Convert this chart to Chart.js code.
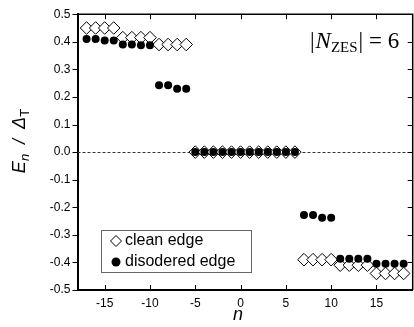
<!DOCTYPE html>
<html><head><meta charset="utf-8">
<script src="https://cdn.jsdelivr.net/npm/chart.js@4"></script>
<style>
html,body{margin:0;padding:0;overflow:hidden;background:#fff}
#wrap{position:relative;width:420px;height:327px}
</style>
</head><body><div id="wrap"><canvas id="c" width="420" height="327"></canvas></div>
<script>
// ---- data ----
const nValues = [-17,-16,-15,-14,-13,-12,-11,-10,-9,-8,-7,-6,
                 -5,-4,-3,-2,-1,0,1,2,3,4,5,6,
                 7,8,9,10,11,12,13,14,15,16,17,18];
const cleanEdge = [0.45,0.45,0.45,0.45, 0.415,0.415,0.415,0.415, 0.39,0.39,0.39,0.39,
                   0,0,0,0,0,0,0,0,0,0,0,0,
                   -0.39,-0.39,-0.39,-0.39, -0.41,-0.41,-0.41,-0.41, -0.44,-0.44,-0.44,-0.44];
const disorderedEdge = [0.41,0.41,0.405,0.405, 0.39,0.39,0.387,0.387, 0.242,0.242,0.23,0.23,
                   0,0,0,0,0,0,0,0,0,0,0,0,
                   -0.228,-0.228,-0.238,-0.238, -0.387,-0.387,-0.387,-0.387, -0.405,-0.405,-0.405,-0.405];
const xTickValues = [-15,-10,-5,0,5,10,15];
const seriesNames = ['clean edge','disodered edge'];
const annotationText = {bar:'|', N:'N', sub:'ZES', rest:'| = 6'};

// ---- chart ----
const SANS = "'Liberation Sans', Arial, sans-serif";
const SERIF = "'Liberation Serif', 'Times New Roman', serif";
Chart.defaults.font.family = SANS;
Chart.defaults.font.size = 12;
Chart.defaults.color = '#000';

const toPts = (arr) => nValues.map((n,i)=>({x:n,y:arr[i]}));

const decor = {
  id:'decor',
  beforeDatasetsDraw(chart){
    const {ctx, chartArea:a, scales:{y}} = chart;
    const y0 = y.getPixelForValue(0);
    ctx.save();
    ctx.strokeStyle = '#333'; ctx.lineWidth = 1; ctx.setLineDash([3,2]);
    ctx.beginPath(); ctx.moveTo(a.left, Math.round(y0)+0.5); ctx.lineTo(a.right, Math.round(y0)+0.5); ctx.stroke();
    ctx.restore();
  },
  afterDraw(chart){
    const {ctx, chartArea:a, scales:{x,y}} = chart;
    ctx.save();
    ctx.strokeStyle = '#000';
    // top & right frame
    ctx.lineWidth = 1.5;
    ctx.beginPath(); ctx.moveTo(a.left, a.top); ctx.lineTo(a.right, a.top); ctx.lineTo(a.right, a.bottom); ctx.stroke();
    // ticks
    ctx.lineWidth = 1;
    x.ticks.forEach(t=>{
      const px = Math.round(x.getPixelForValue(t.value))+0.5;
      ctx.beginPath(); ctx.moveTo(px, a.bottom); ctx.lineTo(px, a.bottom-5); ctx.stroke();
      ctx.beginPath(); ctx.moveTo(px, a.top); ctx.lineTo(px, a.top+5); ctx.stroke();
    });
    y.ticks.forEach(t=>{
      const py = Math.round(y.getPixelForValue(t.value))+0.5;
      ctx.beginPath(); ctx.moveTo(a.left-5, py); ctx.lineTo(a.left, py); ctx.stroke();
      ctx.beginPath(); ctx.moveTo(a.right-5, py); ctx.lineTo(a.right, py); ctx.stroke();
    });

    // x title
    ctx.fillStyle = '#000';
    ctx.font = 'italic 18px ' + SANS;
    ctx.textAlign = 'center'; ctx.textBaseline = 'alphabetic';
    ctx.fillText('n', (a.left+a.right)/2 - 7, 320);

    // y title (rotated)
    ctx.save();
    ctx.translate(25, 141);
    ctx.rotate(-Math.PI/2);
    const parts = [
      {t:'E', f:'italic 18px '+SANS, dy:0, gap:0},
      {t:'n', f:'italic 13px '+SANS, dy:4, gap:0},
      {t:'/', f:'italic 18px '+SANS, dy:0, gap:10},
      {t:'Δ', f:'italic 18px '+SANS, dy:0, gap:10},
      {t:'T', f:'13px '+SANS, dy:4, gap:0},
    ];
    let total = 0;
    parts.forEach(p=>{ctx.font=p.f; p.w=ctx.measureText(p.t).width; total += p.gap + p.w;});
    let cx = -total/2;
    ctx.textAlign = 'left';
    parts.forEach(p=>{cx += p.gap; ctx.font=p.f; ctx.fillText(p.t, cx, p.dy); cx += p.w;});
    ctx.restore();

    // annotation |N_ZES| = 6
    let ax = 310; const ab = 48;
    ctx.textAlign = 'left';
    ctx.font = '23px '+SERIF; ctx.fillText(annotationText.bar, ax, ab); ax += ctx.measureText(annotationText.bar).width + 1;
    ctx.font = 'italic 23px '+SERIF; ctx.fillText(annotationText.N, ax, ab); ax += ctx.measureText(annotationText.N).width;
    ctx.font = '15px '+SERIF; ctx.fillText(annotationText.sub, ax, ab+4); ax += ctx.measureText(annotationText.sub).width + 1;
    ctx.font = '23px '+SERIF; ctx.fillText(annotationText.rest, ax, ab);

    // legend
    const L = {x:101, y:230, w:150, h:42};
    ctx.fillStyle = '#fff'; ctx.fillRect(L.x, L.y, L.w, L.h);
    ctx.strokeStyle = '#666'; ctx.lineWidth = 1;
    ctx.strokeRect(L.x+0.5, L.y+0.5, L.w, L.h);
    // diamond
    ctx.strokeStyle = '#000'; ctx.fillStyle = '#fff';
    const dx = 116, dy = 241, r = 5.5;
    ctx.beginPath(); ctx.moveTo(dx, dy-r); ctx.lineTo(dx+r, dy); ctx.lineTo(dx, dy+r); ctx.lineTo(dx-r, dy); ctx.closePath();
    ctx.fill(); ctx.stroke();
    ctx.fillStyle = '#000';
    ctx.beginPath(); ctx.arc(116, 262, 4.5, 0, Math.PI*2); ctx.fill();
    ctx.font = '16px '+SANS; ctx.textBaseline = 'middle';
    ctx.fillText(seriesNames[0], 125, 241);
    ctx.fillText(seriesNames[1], 125, 262);
    ctx.restore();
  }
};

new Chart(document.getElementById('c'), {
  type:'scatter',
  data:{datasets:[
    {label:seriesNames[1], data:toPts(disorderedEdge), order:0,
     pointStyle:'circle', pointRadius:4, pointBackgroundColor:'#000', pointBorderColor:'#000', pointBorderWidth:0},
    {label:seriesNames[0], data:toPts(cleanEdge), order:1,
     pointStyle:'rectRot', pointRadius:6.3, pointBackgroundColor:'#fff', pointBorderColor:'#000', pointBorderWidth:1},
  ]},
  options:{
    responsive:false, animation:false, devicePixelRatio:1,
    layout:{padding:{left:0, top:12, right:5, bottom:0}},
    plugins:{legend:{display:false}, tooltip:{enabled:false}},
    scales:{
      x:{type:'linear', min:-18, max:19,
         afterBuildTicks(s){ s.ticks = xTickValues.map(v=>({value:v})); },
         afterFit(s){ s.height = 37; },
         ticks:{padding:6, font:{size:12}, callback:v=>String(v), maxRotation:0, autoSkip:false},
         grid:{display:false, drawTicks:false},
         border:{display:true, color:'#000', width:2}},
      y:{type:'linear', min:-0.5, max:0.5,
         ticks:{stepSize:0.1, padding:7, font:{size:12}, callback:v=>(Math.round(v*10)/10).toFixed(1)},
         afterFit(s){ s.width = 77.5; },
         grid:{display:false, drawTicks:false},
         border:{display:true, color:'#000', width:2}}
    }
  },
  plugins:[decor]
});
</script>
</body></html>
